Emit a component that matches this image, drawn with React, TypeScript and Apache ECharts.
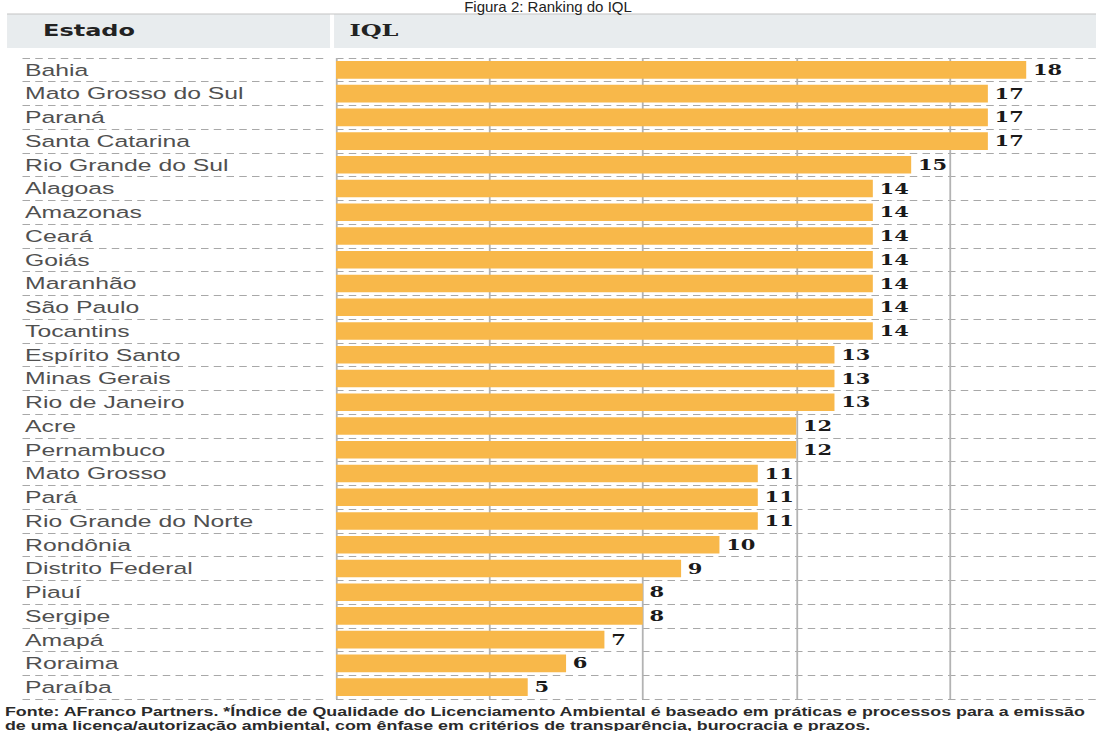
import React, { useEffect, useRef } from "react";
import * as echarts from "echarts";

const states = [
  "Bahia", "Mato Grosso do Sul", "Paraná", "Santa Catarina", "Rio Grande do Sul",
  "Alagoas", "Amazonas", "Ceará", "Goiás", "Maranhão", "São Paulo", "Tocantins",
  "Espírito Santo", "Minas Gerais", "Rio de Janeiro", "Acre", "Pernambuco",
  "Mato Grosso", "Pará", "Rio Grande do Norte", "Rondônia", "Distrito Federal",
  "Piauí", "Sergipe", "Amapá", "Roraima", "Paraíba",
];
const iqlValues = [18, 17, 17, 17, 15, 14, 14, 14, 14, 14, 14, 14, 13, 13, 13, 12, 12, 11, 11, 11, 10, 9, 8, 8, 7, 6, 5];

const titleText = "Figura 2: Ranking do IQL";
const headerState = "Estado";
const headerValue = "IQL";
const footerLine1 =
  "Fonte: AFranco Partners. *Índice de Qualidade do Licenciamento Ambiental é baseado em práticas e processos para a emissão";
const footerLine2 =
  "de uma licença/autorização ambiental, com ênfase em critérios de transparência, burocracia e prazos.";

const SX = 1.5;
const W = 1096 / SX;
const H = 731;

export default function App() {
  const ref = useRef<HTMLDivElement>(null);

  useEffect(() => {
    if (!ref.current) return;
    const chart = echarts.init(ref.current, null, { renderer: "svg", width: W, height: H });
    const dashed = { type: [5, 3.5] as any, color: "#a8a8a8", width: 1 };
    chart.setOption({
      animation: false,
      grid: [
        { left: 224, right: 0, top: 58, bottom: 32 },
        { left: 15, width: 201.7, top: 58, bottom: 32 },
      ],
      xAxis: [
        {
          type: "value",
          gridIndex: 0,
          min: 0,
          max: 19.82,
          interval: 4,
          axisLabel: { show: false },
          axisLine: { show: false },
          axisTick: { show: false },
          splitLine: { show: true, showMaxLine: false, lineStyle: { color: "#b3b3b3", width: 1.2 } },
        },
        { type: "value", gridIndex: 1, min: 0, max: 1, show: false },
      ],
      yAxis: [
        {
          type: "category",
          gridIndex: 0,
          inverse: true,
          data: states,
          axisLine: { show: false },
          axisTick: { show: false },
          axisLabel: {
            interval: 0,
            margin: 207.3,
            align: "left",
            fontFamily: "Liberation Sans",
            fontSize: 16.5,
            color: "#505050",
          },
          splitLine: { show: true, interval: 0, lineStyle: dashed },
        },
        {
          type: "category",
          gridIndex: 1,
          inverse: true,
          data: states,
          axisLine: { show: false },
          axisTick: { show: false },
          axisLabel: { show: false },
          splitLine: { show: true, interval: 0, lineStyle: dashed },
        },
      ],
      series: [
        {
          type: "bar",
          xAxisIndex: 0,
          yAxisIndex: 0,
          data: iqlValues,
          barCategoryGap: "26%",
          itemStyle: { color: "#F8B84A" },
          label: {
            show: true,
            position: "right",
            distance: 4.5,
            fontFamily: "DejaVu Serif",
            fontWeight: "bold",
            fontSize: 14,
            color: "#1a1a1a",
          },
        },
      ],
      graphic: [
        { type: "rect", shape: { x: 4.7, y: 14, width: 215.3, height: 34 }, style: { fill: "#e8ecee" } },
        { type: "rect", shape: { x: 222.7, y: 14, width: 508, height: 34 }, style: { fill: "#e8ecee" } },
        { type: "line", shape: { x1: 4.7, y1: 14, x2: W, y2: 14 }, style: { stroke: "#c4c4c4", lineWidth: 1 } },
        {
          type: "text",
          x: 28.7,
          y: 31,
          style: {
            text: headerState,
            fontFamily: "DejaVu Sans",
            fontWeight: "bold",
            fontSize: 16,
            fill: "#222",
            verticalAlign: "middle",
          },
        },
        {
          type: "text",
          x: 233,
          y: 31,
          style: {
            text: headerValue,
            fontFamily: "DejaVu Serif",
            fontWeight: "bold",
            fontSize: 16,
            fill: "#222",
            verticalAlign: "middle",
          },
        },
        {
          type: "text",
          x: 548 / SX,
          y: 7,
          scaleX: 1 / SX,
          style: {
            text: titleText,
            fontFamily: "Liberation Sans",
            fontSize: 15,
            fill: "#222",
            align: "center",
            verticalAlign: "middle",
          },
        },
        {
          type: "text",
          x: 3.3,
          y: 712,
          style: {
            text: footerLine1,
            fontFamily: "Liberation Sans",
            fontWeight: "bold",
            fontSize: 11.9,
            fill: "#2a2a2a",
            verticalAlign: "middle",
          },
        },
        {
          type: "text",
          x: 3.3,
          y: 725.5,
          style: {
            text: footerLine2,
            fontFamily: "Liberation Sans",
            fontWeight: "bold",
            fontSize: 11.9,
            fill: "#2a2a2a",
            verticalAlign: "middle",
          },
        },
      ],
    });
    return () => chart.dispose();
  }, []);

  return (
    <div style={{ position: "fixed", left: 0, top: 0, width: 1096, height: H, overflow: "hidden", background: "#fff" }}>
      <div
        ref={ref}
        style={{ width: W, height: H, transform: `scaleX(${SX})`, transformOrigin: "0 0" }}
      />
    </div>
  );
}
